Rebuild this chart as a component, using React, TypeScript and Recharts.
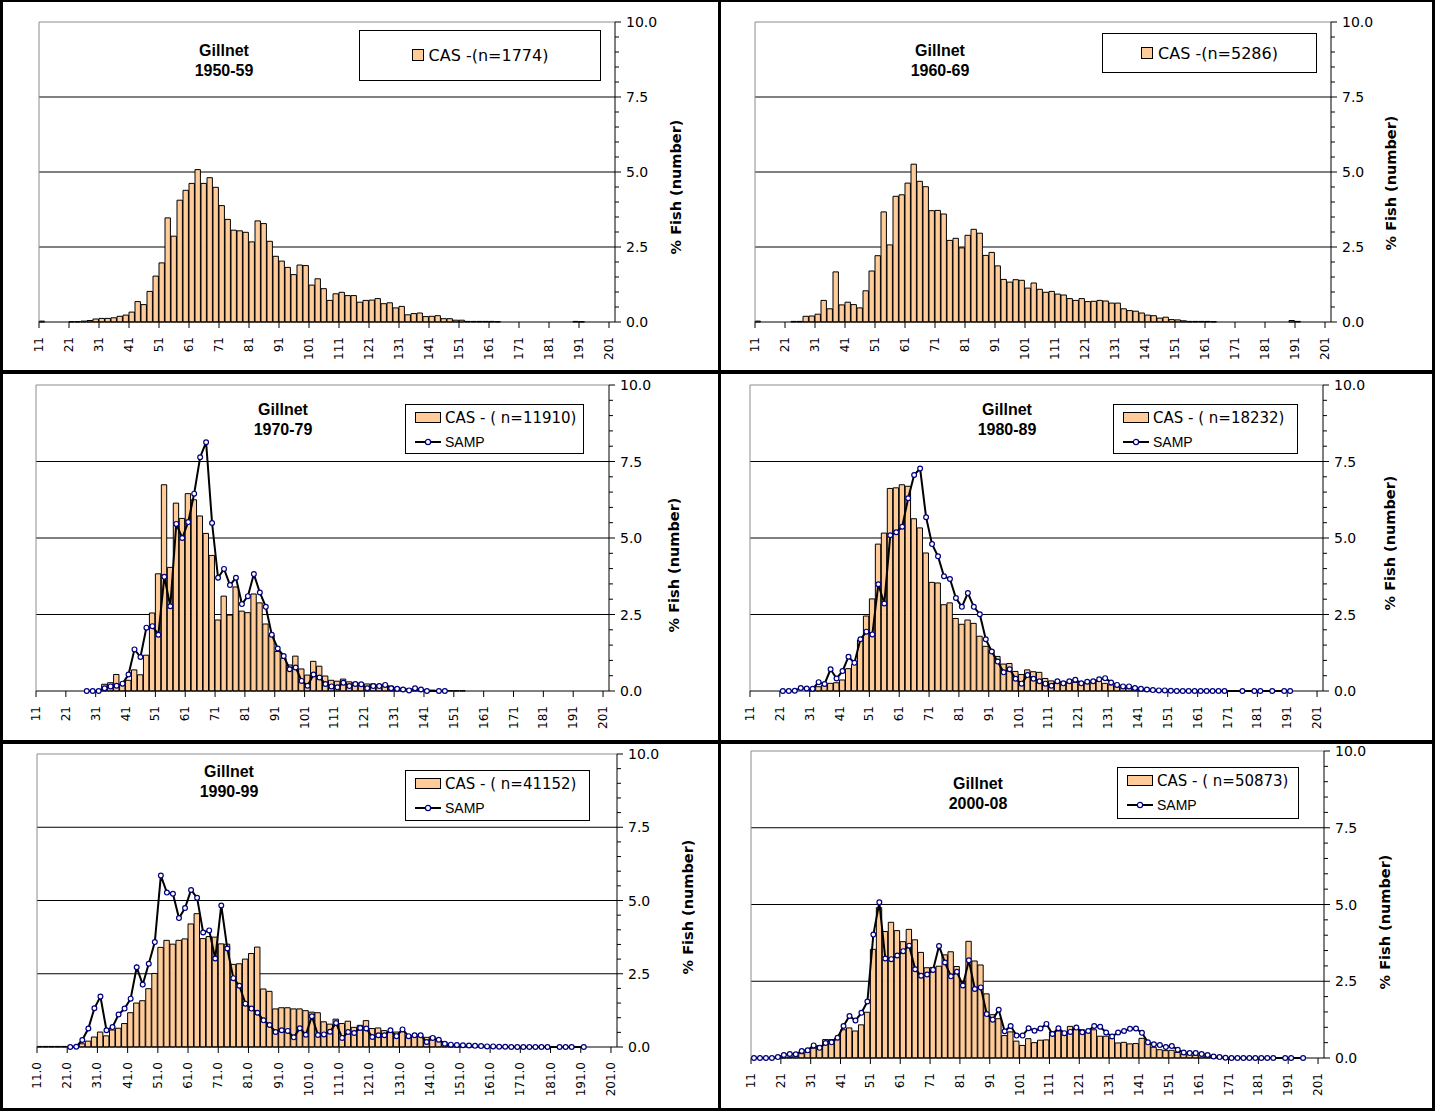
import React from 'react';
import { ComposedChart, Bar, Line, XAxis, YAxis, CartesianGrid, ReferenceLine, Legend } from 'recharts';

const N = null;

// length-class bins (lower bound of each 2-unit bin)
const lengthBins = [
  11, 13, 15, 17, 19, 21, 23, 25, 27, 29,
  31, 33, 35, 37, 39, 41, 43, 45, 47, 49,
  51, 53, 55, 57, 59, 61, 63, 65, 67, 69,
  71, 73, 75, 77, 79, 81, 83, 85, 87, 89,
  91, 93, 95, 97, 99, 101, 103, 105, 107, 109,
  111, 113, 115, 117, 119, 121, 123, 125, 127, 129,
  131, 133, 135, 137, 139, 141, 143, 145, 147, 149,
  151, 153, 155, 157, 159, 161, 163, 165, 167, 169,
  171, 173, 175, 177, 179, 181, 183, 185, 187, 189,
  191, 193, 195, 197, 199, 201,
];

const xTickValues = [11, 21, 31, 41, 51, 61, 71, 81, 91, 101, 111, 121, 131, 141, 151, 161, 171, 181, 191, 201];
const yTickValues = [0, 0.5, 1, 1.5, 2, 2.5, 3, 3.5, 4, 4.5, 5, 5.5, 6, 6.5, 7, 7.5, 8, 8.5, 9, 9.5, 10];
const gridValues = [2.5, 5, 7.5];

const cas1950 = [
  0.03, 0, 0, 0, 0, 0.01, 0.01, 0.03, 0.05, 0.10,
  0.12, 0.12, 0.14, 0.19, 0.23, 0.33, 0.68, 0.58, 1.02, 1.53,
  1.97, 3.47, 2.86, 4.06, 4.39, 4.62, 5.08, 4.62, 4.81, 4.49,
  3.88, 3.42, 3.06, 3.04, 2.99, 2.67, 3.37, 3.28, 2.69, 2.19,
  2.03, 1.82, 1.58, 1.90, 1.88, 1.23, 1.44, 1.11, 0.72, 0.94,
  0.99, 0.88, 0.88, 0.66, 0.72, 0.73, 0.78, 0.61, 0.64, 0.47,
  0.52, 0.24, 0.28, 0.30, 0.18, 0.19, 0.21, 0.11, 0.11, 0.06,
  0.06, 0.02, 0.02, 0.02, 0.02, 0.02, 0.01, 0, 0, 0,
  0, 0, 0, 0, 0, 0, 0, 0, 0, 0.02,
  0.01, 0, 0, 0, 0, 0,
];

const cas1960 = [
  0.03, 0, 0, 0, 0, 0, 0.02, 0.02, 0.19, 0.20,
  0.26, 0.72, 0.44, 1.67, 0.57, 0.66, 0.58, 0.47, 1.04, 1.70,
  2.21, 3.67, 2.57, 4.19, 4.24, 4.63, 5.26, 4.69, 4.51, 3.71,
  3.72, 3.60, 2.72, 2.79, 2.47, 2.89, 3.09, 2.96, 2.22, 2.32,
  1.87, 1.42, 1.33, 1.41, 1.39, 1.13, 1.30, 1.09, 0.99, 1.02,
  0.93, 0.90, 0.78, 0.72, 0.78, 0.68, 0.69, 0.72, 0.70, 0.63,
  0.63, 0.44, 0.38, 0.36, 0.30, 0.23, 0.21, 0.13, 0.16, 0.08,
  0.07, 0.04, 0.02, 0.02, 0.02, 0.02, 0.01, 0, 0, 0,
  0, 0, 0, 0, 0, 0, 0, 0, 0, 0.05,
  0.02, 0, 0, 0, 0, 0,
];

const cas1970 = [
  0, 0, 0, 0, 0, 0, 0, 0, 0, 0,
  0.02, 0.22, 0.27, 0.54, 0.20, 0.35, 0.69, 0.53, 1.17, 2.55,
  3.83, 6.74, 4.04, 6.14, 5.64, 6.45, 6.25, 5.72, 5.15, 4.43,
  2.32, 3.10, 2.48, 3.40, 2.61, 2.56, 3.17, 2.88, 2.19, 1.83,
  1.29, 1.07, 0.85, 1.14, 0.72, 0.52, 0.97, 0.81, 0.49, 0.35,
  0.32, 0.39, 0.30, 0.28, 0.25, 0.23, 0.23, 0.20, 0.22, 0.16,
  0.11, 0.09, 0.07, 0.05, 0.04, 0.03, 0.03, 0.02, 0.02, 0.01,
  0.01, 0.01, 0, 0, 0, 0, 0, 0, 0, 0,
  0, 0, 0, 0, 0, 0, 0, 0, 0, 0,
  0, 0, 0, 0, 0, 0,
];

const samp1970 = [
  N, N, N, N, N, N, N, N, 0, 0,
  0, 0.09, 0.15, 0.17, 0.24, 0.54, 1.36, 1.11, 2.07, 2.12,
  1.84, 3.73, 2.77, 5.46, 5.00, 5.52, 6.45, 7.64, 8.13, 5.49,
  3.70, 3.99, 3.46, 3.70, 2.84, 3.10, 3.82, 3.22, 2.75, 1.84,
  1.39, 1.14, 0.71, 0.77, 0.33, 0.17, 0.54, 0.44, 0.23, 0.15,
  0.12, 0.27, 0.16, 0.23, 0.22, 0.09, 0.16, 0.16, 0.20, 0.09,
  0.07, 0.05, 0.02, 0.09, 0.05, 0, N, 0, 0, N,
  N, N, N, N, N, N, N, N, N, N,
  N, N, N, N, N, N, N, N, N, N,
  N, N, N, N, N, N,
];

const cas1980 = [
  0, 0, 0, 0, 0, 0, 0, 0, 0, 0,
  0.05, 0.14, 0.20, 0.25, 0.27, 0.36, 0.73, 0.87, 1.67, 2.45,
  3.01, 4.80, 5.16, 6.62, 6.64, 6.74, 6.69, 5.63, 5.33, 4.51,
  3.55, 3.53, 2.82, 2.88, 2.37, 2.18, 2.32, 2.21, 1.79, 1.46,
  1.33, 1.13, 0.88, 0.90, 0.64, 0.54, 0.69, 0.63, 0.61, 0.41,
  0.33, 0.31, 0.29, 0.31, 0.28, 0.25, 0.25, 0.28, 0.31, 0.25,
  0.20, 0.14, 0.11, 0.09, 0.07, 0.04, 0.03, 0.02, 0.02, 0.01,
  0.01, 0, 0, 0, 0, 0, 0, 0, 0, 0,
  0, 0, 0, 0, 0, 0, 0, 0, 0, 0,
  0, 0, 0, 0, 0, 0,
];

const samp1980 = [
  N, N, N, N, N, 0, 0, 0.01, 0.10, 0.08,
  0.07, 0.29, 0.23, 0.71, 0.41, 0.65, 1.12, 0.92, 1.69, 1.94,
  1.85, 3.49, 2.86, 5.09, 5.19, 5.37, 6.30, 7.06, 7.27, 5.68,
  4.80, 4.40, 3.75, 3.66, 3.04, 2.75, 3.20, 2.75, 2.51, 1.69,
  1.29, 0.96, 0.61, 0.71, 0.40, 0.24, 0.52, 0.40, 0.32, 0.24,
  0.17, 0.32, 0.25, 0.32, 0.37, 0.25, 0.30, 0.32, 0.38, 0.42,
  0.28, 0.20, 0.15, 0.15, 0.10, 0.07, 0.05, 0.03, 0.02, 0.02,
  0.01, 0, 0, 0, 0, 0, 0, 0, 0, 0,
  N, N, 0, N, 0, 0, N, 0, N, 0,
  0, N, N, N, N, N,
];

const cas1990 = [
  0.02, 0.02, 0.02, 0.02, 0.02, 0.02, 0.03, 0.11, 0.20, 0.34,
  0.51, 0.38, 0.58, 0.64, 0.80, 1.17, 1.50, 1.58, 1.99, 2.51,
  3.40, 3.64, 3.51, 3.64, 3.69, 4.20, 4.55, 3.70, 3.77, 3.75,
  3.52, 3.51, 2.82, 2.84, 3.00, 3.19, 3.41, 1.98, 1.90, 1.30,
  1.34, 1.34, 1.30, 1.30, 1.24, 1.19, 1.17, 0.86, 0.78, 0.95,
  0.80, 0.88, 0.67, 0.74, 0.90, 0.63, 0.65, 0.56, 0.53, 0.51,
  0.53, 0.40, 0.38, 0.40, 0.33, 0.36, 0.23, 0.15, 0.10, 0.08,
  0.05, 0.03, 0.02, 0.02, 0.01, 0.01, 0, 0, 0, 0,
  0, 0, 0, 0, 0, 0, 0, 0, 0, 0,
  0, 0, 0, 0, 0, 0,
];

const samp1990 = [
  N, N, N, N, N, 0, 0.01, 0.24, 0.63, 1.32,
  1.72, 0.57, 0.68, 1.11, 1.31, 1.65, 2.72, 2.13, 2.84, 3.58,
  5.85, 5.27, 5.23, 4.40, 4.74, 5.36, 5.09, 3.91, 3.98, 3.02,
  4.83, 3.36, 2.35, 2.09, 1.48, 1.31, 1.17, 0.91, 0.75, 0.51,
  0.57, 0.55, 0.33, 0.64, 0.42, 1.05, 0.41, 0.43, 0.52, 0.82,
  0.31, 0.51, 0.48, 0.65, 0.63, 0.34, 0.40, 0.40, 0.57, 0.37,
  0.60, 0.37, 0.40, 0.40, 0.17, 0.31, 0.25, 0.11, 0.08, 0.07,
  0.06, 0.05, 0.04, 0.03, 0.02, 0.02, 0.01, 0.01, 0, 0,
  0, 0, 0, 0, 0, N, 0, 0, 0, N,
  0, N, N, N, N, N,
];

const cas2000 = [
  0, 0, 0, 0, 0, 0.01, 0.03, 0.07, 0.14, 0.18,
  0.32, 0.40, 0.60, 0.60, 0.65, 0.92, 0.98, 0.88, 1.08, 1.49,
  3.54, 4.90, 4.12, 4.42, 4.15, 3.79, 4.19, 3.85, 3.44, 2.94,
  2.95, 2.99, 3.36, 3.46, 2.98, 2.50, 3.80, 3.16, 3.03, 2.09,
  1.41, 1.28, 0.73, 0.85, 0.55, 0.41, 0.63, 0.50, 0.58, 0.59,
  0.85, 0.88, 0.83, 1.03, 1.00, 0.92, 0.84, 0.92, 0.71, 0.71,
  0.64, 0.49, 0.51, 0.46, 0.47, 0.64, 0.51, 0.35, 0.27, 0.24,
  0.25, 0.18, 0.13, 0.11, 0.09, 0.08, 0.05, 0.03, 0.02, 0.01,
  0, 0, 0, 0, 0, 0, 0, 0, 0, 0,
  0, 0, 0, 0, 0, 0,
];

const samp2000 = [
  0, 0, 0, 0, 0.03, 0.10, 0.13, 0.12, 0.23, 0.25,
  0.41, 0.33, 0.49, 0.51, 0.66, 1.04, 1.37, 1.22, 1.47, 1.84,
  4.02, 5.07, 3.24, 3.22, 3.34, 3.48, 3.66, 2.89, 2.68, 2.72,
  2.87, 3.65, 3.11, 2.66, 2.81, 2.36, 3.18, 2.25, 2.30, 1.43,
  1.25, 1.57, 0.87, 1.04, 0.73, 0.73, 0.97, 0.89, 0.96, 1.11,
  0.78, 0.97, 0.81, 0.85, 0.99, 0.84, 0.88, 1.04, 1.02, 0.83,
  0.70, 0.83, 0.88, 0.95, 0.96, 0.82, 0.51, 0.45, 0.42, 0.36,
  0.39, 0.27, 0.18, 0.16, 0.16, 0.13, 0.10, 0.05, 0.03, 0.01,
  0, 0, 0, 0, 0, 0, 0, 0, N, 0,
  0, N, 0, N, N, N,
];

const YW = 60;
const XH = 40;
const BAR_FILL = '#FFCC99';
const SANS = 'DejaVu Sans, Verdana, sans-serif';
const ARIAL = 'Liberation Sans, Arial, sans-serif';

type Cfg = {
  id: string;
  left: number; top: number; width: number; height: number;
  plot: { l: number; r: number; t: number; b: number };
  cas: number[];
  samp: (number | null)[] | null;
  period: string;
  casLabel: string;
  legend: { x: number; y: number; w: number; h: number };
  title: { x: number; y: number };
  yTitle: { x: number; y: number };
  decimals: boolean;
};

const panels: Cfg[] = [
  {
    id: 'p1', left: 0, top: 0, width: 717, height: 370,
    plot: { l: 39, r: 615, t: 22, b: 322 },
    cas: cas1950, samp: null, period: '1950-59', casLabel: 'CAS -(n=1774)',
    legend: { x: 359, y: 30, w: 242, h: 51 }, title: { x: 224, y: 50 }, yTitle: { x: 676, y: 187 }, decimals: false,
  },
  {
    id: 'p2', left: 720, top: 0, width: 712, height: 370,
    plot: { l: 35, r: 611, t: 22, b: 322 },
    cas: cas1960, samp: null, period: '1960-69', casLabel: 'CAS -(n=5286)',
    legend: { x: 382, y: 33, w: 215, h: 40 }, title: { x: 220, y: 50 }, yTitle: { x: 671, y: 183 }, decimals: false,
  },
  {
    id: 'p3', left: 0, top: 374, width: 717, height: 366,
    plot: { l: 36, r: 609, t: 11, b: 317 },
    cas: cas1970, samp: samp1970, period: '1970-79', casLabel: 'CAS - ( n=11910)',
    legend: { x: 405, y: 30, w: 179, h: 50 }, title: { x: 283, y: 35 }, yTitle: { x: 674, y: 191 }, decimals: false,
  },
  {
    id: 'p4', left: 720, top: 374, width: 712, height: 366,
    plot: { l: 30, r: 603, t: 11, b: 317 },
    cas: cas1980, samp: samp1980, period: '1980-89', casLabel: 'CAS - ( n=18232)',
    legend: { x: 393, y: 30, w: 185, h: 50 }, title: { x: 287, y: 35 }, yTitle: { x: 670, y: 169 }, decimals: false,
  },
  {
    id: 'p5', left: 0, top: 744, width: 717, height: 364,
    plot: { l: 37, r: 617, t: 10, b: 303 },
    cas: cas1990, samp: samp1990, period: '1990-99', casLabel: 'CAS - ( n=41152)',
    legend: { x: 405, y: 26, w: 185, h: 51 }, title: { x: 229, y: 27 }, yTitle: { x: 688, y: 163 }, decimals: true,
  },
  {
    id: 'p6', left: 720, top: 744, width: 712, height: 364,
    plot: { l: 31, r: 604, t: 7, b: 314 },
    cas: cas2000, samp: samp2000, period: '2000-08', casLabel: 'CAS - ( n=50873)',
    legend: { x: 397, y: 23, w: 182, h: 52 }, title: { x: 258, y: 39 }, yTitle: { x: 665, y: 178 }, decimals: false,
  },
];

const borders = [
  { left: 0, top: 0, width: 1435, height: 2 },
  { left: 0, top: 0, width: 3, height: 1111 },
  { left: 718, top: 0, width: 3, height: 1111 },
  { left: 1432, top: 0, width: 3, height: 1111 },
  { left: 0, top: 370, width: 1435, height: 4 },
  { left: 0, top: 740, width: 1435, height: 4 },
  { left: 0, top: 1108, width: 1435, height: 3 },
];

const XTick = (props: any) => {
  const { x, y, payload, decimals } = props;
  const label = decimals ? Number(payload.value).toFixed(1) : String(payload.value);
  return (
    <text
      x={x}
      y={y}
      transform={`rotate(-90 ${x} ${y})`}
      textAnchor="end"
      dominantBaseline="central"
      fontSize={12}
      fontFamily={SANS}
      fill="#000"
    >
      {label}
    </text>
  );
};

const YTick = (props: any) => {
  const { x, y, payload } = props;
  const v = Number(payload.value);
  const major = Math.abs(v / 2.5 - Math.round(v / 2.5)) < 1e-6;
  return (
    <g>
      <line x1={x} x2={x + (major ? 6 : 4)} y1={y} y2={y} stroke="#000" strokeWidth={1} />
      {major && (
        <text x={x + 11} y={y} dominantBaseline="central" fontSize={14} fontFamily={SANS} fill="#000">
          {v.toFixed(1)}
        </text>
      )}
    </g>
  );
};

const LegendBox = ({ cfg }: { cfg: Cfg }) => {
  const { w, h } = cfg.legend;
  const base: React.CSSProperties = {
    width: w,
    height: h,
    border: '1px solid #000',
    boxSizing: 'border-box',
    background: '#fff',
  };
  if (!cfg.samp) {
    return (
      <div style={{ ...base, display: 'flex', alignItems: 'center', justifyContent: 'center' }}>
        <svg width={13} height={13} style={{ marginRight: 4 }}>
          <rect x={0.5} y={0.5} width={11} height={11} fill={BAR_FILL} stroke="#000" />
        </svg>
        <span style={{ fontFamily: SANS, fontSize: 16, color: '#000', whiteSpace: 'nowrap' }}>{cfg.casLabel}</span>
      </div>
    );
  }
  return (
    <div style={{ ...base, paddingLeft: 9, paddingTop: 1 }}>
      <div style={{ display: 'flex', alignItems: 'center', height: 24 }}>
        <svg width={27} height={12} style={{ marginRight: 3 }}>
          <rect x={0.5} y={0.5} width={25} height={10} fill={BAR_FILL} stroke="#000" />
        </svg>
        <span style={{ fontFamily: SANS, fontSize: 15, color: '#000', whiteSpace: 'nowrap' }}>{cfg.casLabel}</span>
      </div>
      <div style={{ display: 'flex', alignItems: 'center', height: 24 }}>
        <svg width={27} height={10} style={{ marginRight: 3 }}>
          <line x1={0} x2={26} y1={5} y2={5} stroke="#000" strokeWidth={2} />
          <circle cx={13} cy={5} r={2.6} fill="#fff" stroke="#000080" strokeWidth={1.2} />
        </svg>
        <span style={{ fontFamily: ARIAL, fontSize: 14, color: '#000' }}>SAMP</span>
      </div>
    </div>
  );
};

const Panel = ({ cfg }: { cfg: Cfg }) => {
  const { width, height, plot } = cfg;
  const margin = {
    left: plot.l,
    top: plot.t,
    right: width - plot.r - YW,
    bottom: height - plot.b - XH,
  };
  const barSize = (plot.r - plot.l) / lengthBins.length;
  const data = lengthBins.map((b, i) => ({
    x: b + 1,
    cas: cfg.cas[i],
    samp: cfg.samp ? cfg.samp[i] : null,
  }));
  return (
    <div style={{ position: 'absolute', left: cfg.left, top: cfg.top }}>
      <ComposedChart width={width} height={height} data={data} margin={margin} barCategoryGap={0} barGap={0}>
        <CartesianGrid vertical={false} horizontalValues={gridValues} stroke="#000" strokeWidth={1} />
        <ReferenceLine y={10} stroke="#8c8c8c" strokeWidth={1} />
        <ReferenceLine x={11} stroke="#8c8c8c" strokeWidth={1} />
        <XAxis
          type="number"
          dataKey="x"
          domain={[11, 203]}
          ticks={xTickValues}
          interval={0}
          height={XH}
          tickSize={6}
          tickMargin={9}
          axisLine={{ stroke: '#000' }}
          tickLine={{ stroke: '#000' }}
          tick={(p: any) => <XTick {...p} decimals={cfg.decimals} />}
        />
        <YAxis
          orientation="right"
          type="number"
          domain={[0, 10]}
          ticks={yTickValues}
          interval={0}
          width={YW}
          tickSize={0}
          tickMargin={0}
          tickLine={false}
          axisLine={{ stroke: '#000' }}
          tick={(p: any) => <YTick {...p} />}
        />
        <Bar
          dataKey="cas"
          fill={BAR_FILL}
          stroke="#000"
          strokeWidth={1}
          barSize={barSize}
          isAnimationActive={false}
        />
        {cfg.samp && (
          <Line
            dataKey="samp"
            type="linear"
            stroke="#000"
            strokeWidth={2}
            connectNulls
            dot={{ r: 2.4, stroke: '#000080', strokeWidth: 1.2, fill: '#fff' }}
            activeDot={false}
            isAnimationActive={false}
          />
        )}
        <Legend
          layout="vertical"
          align="center"
          verticalAlign="middle"
          wrapperStyle={{ left: cfg.legend.x, top: cfg.legend.y, width: cfg.legend.w, height: cfg.legend.h }}
          content={() => <LegendBox cfg={cfg} />}
        />
        <text x={cfg.title.x} y={cfg.title.y} textAnchor="middle" dominantBaseline="central" fontFamily={ARIAL} fontWeight="bold" fontSize={16} fill="#000">
          Gillnet
        </text>
        <text x={cfg.title.x} y={cfg.title.y + 20} textAnchor="middle" dominantBaseline="central" fontFamily={ARIAL} fontWeight="bold" fontSize={16} fill="#000">
          {cfg.period}
        </text>
        <text
          x={cfg.yTitle.x}
          y={cfg.yTitle.y}
          transform={`rotate(-90 ${cfg.yTitle.x} ${cfg.yTitle.y})`}
          textAnchor="middle"
          dominantBaseline="central"
          fontFamily={SANS}
          fontWeight="bold"
          fontSize={14.5}
          fill="#000"
        >
          % Fish (number)
        </text>
      </ComposedChart>
    </div>
  );
};

export default function App() {
  return (
    <div style={{ position: 'absolute', left: 0, top: 0, width: 1442, height: 1113, background: '#fff' }}>
      {panels.map((p) => (
        <Panel key={p.id} cfg={p} />
      ))}
      {borders.map((b, i) => (
        <div key={i} style={{ position: 'absolute', background: '#000', ...b }} />
      ))}
    </div>
  );
}
